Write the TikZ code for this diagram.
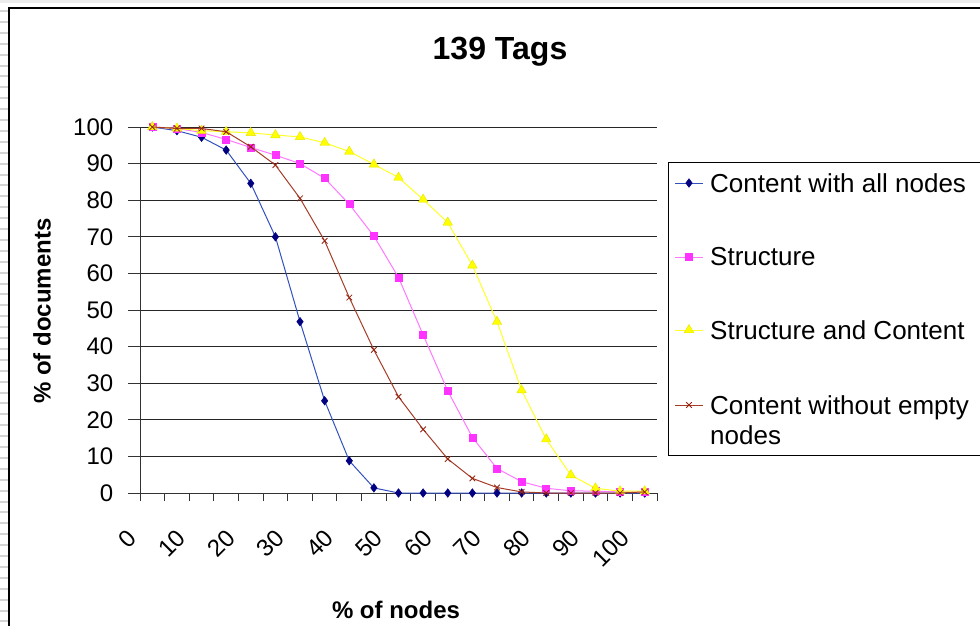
\documentclass[tikz,border=0pt]{standalone}
\usepackage{fontspec}
\setmainfont{Liberation Sans}
\usetikzlibrary{plotmarks}

\definecolor{navymark}{RGB}{0,0,128}
\definecolor{navyline}{RGB}{50,80,190}
\definecolor{magmark}{RGB}{255,51,255}
\definecolor{magline}{RGB}{255,120,255}
\definecolor{yelmark}{RGB}{255,255,0}
\definecolor{yelline}{RGB}{255,255,40}
\definecolor{brnmark}{RGB}{150,35,15}
\definecolor{brnline}{RGB}{165,60,40}
\definecolor{rulergray}{RGB}{212,212,212}

\tikzset{
  gridline/.style={black!85, line width=1pt},
  axisline/.style={black!80, line width=1pt},
  ticklabel/.style={font=\fontsize{24}{24}\selectfont},
  catlabel/.style={font=\fontsize{24}{24}\selectfont, rotate=45, anchor=east, inner sep=0pt},
  axistitle/.style={font=\bfseries\fontsize{24}{24}\selectfont, inner sep=0pt},
  legendtext/.style={font=\fontsize{26}{30}\selectfont, anchor=west, align=left, inner sep=0pt},
  allnodes/.style={draw=navyline, line width=1pt, mark=diamond*, mark size=4.3pt,
    mark options={draw=navymark, fill=navymark, line width=0.5pt}},
  struct/.style={draw=magline, line width=1pt, mark=square*, mark size=3.5pt,
    mark options={draw=magmark, fill=magmark, line width=0.5pt}},
  structcont/.style={draw=yelline, line width=1pt, mark=triangle*, mark size=5.5pt,
    mark options={draw=yelmark!90!black, fill=yelmark, line width=0.4pt}},
  noempty/.style={draw=brnline, line width=1pt, mark=x, mark size=4pt,
    mark options={draw=brnmark, line width=0.8pt}}
}

\begin{document}
\begin{tikzpicture}[x=1pt, y=-1pt]
    \useasboundingbox (0,0) rectangle (980,625);

    % Page edge and chart frame
    \fill[gray!15] (0,0) rectangle (980,2.5);
    \foreach \i in {0,...,56}
        \fill[rulergray] (0,{10+10.9*\i}) rectangle (8,{12+10.9*\i});
    \draw[line width=1.3pt] (9,640) -- (9,8) -- (995,8);

    % Title
    \node[font=\bfseries\fontsize{32}{32}\selectfont, anchor=base] (title) at (500,59) {139 Tags};

    % Axis titles
    \node[axistitle, rotate=90] (ytitle) at (42,311) {\% of documents};
    \node[axistitle, anchor=base] (xtitle) at (396,618) {\% of nodes};

    \begin{scope}[shift={(140,493)}, x=24.62pt, y=3.66pt]
        % Grid
        \foreach \v in {10,20,...,100}
            \draw[gridline] (0,\v) -- (21,\v);

        % Axes
        \draw[axisline] (0,0) -- (21,0);
        \draw[axisline] (0,0) -- (0,100);

        % Axis labels
        \foreach \v in {0,10,...,100} {
            \draw[axisline] (-0.49,\v) -- (0,\v);
            \node[ticklabel, anchor=east, inner sep=0pt] (yl\v) at (-1.08,\v) {\v};
        }
        \foreach \k in {0,...,21}
            \draw[axisline] (\k,0) -- (\k,-2.2);
        \foreach \k in {0,2,...,20} {
            \pgfmathtruncatemacro{\lab}{5*\k}
            \node[catlabel] (xl\k) at ({\k-0.31},-11.2) {\lab};
        }

        % Content with all nodes
        \draw[allnodes] plot coordinates {(0.5,100) (1.5,99) (2.5,97.2) (3.5,93.7)
            (4.5,84.6) (5.5,70) (6.5,46.8) (7.5,25.2) (8.5,8.8) (9.5,1.4) (10.5,0)
            (11.5,0) (12.5,0) (13.5,0) (14.5,0) (15.5,0) (16.5,0) (17.5,0) (18.5,0)
            (19.5,0) (20.5,0)};

        % Structure
        \draw[struct] plot coordinates {(0.5,100) (1.5,99.6) (2.5,98.5) (3.5,96.6)
            (4.5,94.4) (5.5,92.3) (6.5,90) (7.5,86) (8.5,78.9) (9.5,70.2) (10.5,58.9)
            (11.5,43.2) (12.5,27.9) (13.5,15.2) (14.5,6.7) (15.5,3.1) (16.5,1.3)
            (17.5,0.6) (18.5,0.5) (19.5,0.3) (20.5,0.3)};

        % Structure and Content
        \draw[structcont] plot coordinates {(0.5,100) (1.5,99.6) (2.5,99) (3.5,98.7)
            (4.5,98.4) (5.5,97.8) (6.5,97.3) (7.5,95.7) (8.5,93.3) (9.5,89.8)
            (10.5,86.2) (11.5,80.2) (12.5,73.9) (13.5,62.2) (14.5,46.8) (15.5,28.1)
            (16.5,14.7) (17.5,4.9) (18.5,1.3) (19.5,0.5) (20.5,0.5)};

        % Content without empty nodes
        \draw[noempty] plot coordinates {(0.5,100) (1.5,99.6) (2.5,99.6) (3.5,98.7)
            (4.5,94.6) (5.5,89.6) (6.5,80.5) (7.5,68.9) (8.5,53.4) (9.5,39.1)
            (10.5,26.3) (11.5,17.4) (12.5,9.3) (13.5,4.0) (14.5,1.5) (15.5,0.3)
            (16.5,0) (17.5,0) (18.5,0) (19.5,0) (20.5,0.3)};
    \end{scope}

    % Legend
    \draw[black, line width=1pt] (995,162) -- (668,162) -- (668,455) -- (995,455);
    \draw[allnodes] (675,183) -- (703,183) plot[only marks] coordinates {(689,183)};
    \node[legendtext] (leg1) at (710,183) {Content with all nodes};
    \draw[struct] (675,257) -- (703,257) plot[only marks] coordinates {(689,257)};
    \node[legendtext] (leg2) at (710,257) {Structure};
    \draw[structcont] (675,330) -- (703,330) plot[only marks] coordinates {(689,330)};
    \node[legendtext] (leg3) at (710,330) {Structure and Content};
    \draw[noempty] (675,405) -- (703,405) plot[only marks] coordinates {(689,405)};
    \node[legendtext] (leg4) at (710,420) {Content without empty\\nodes};
\end{tikzpicture}
\end{document}
